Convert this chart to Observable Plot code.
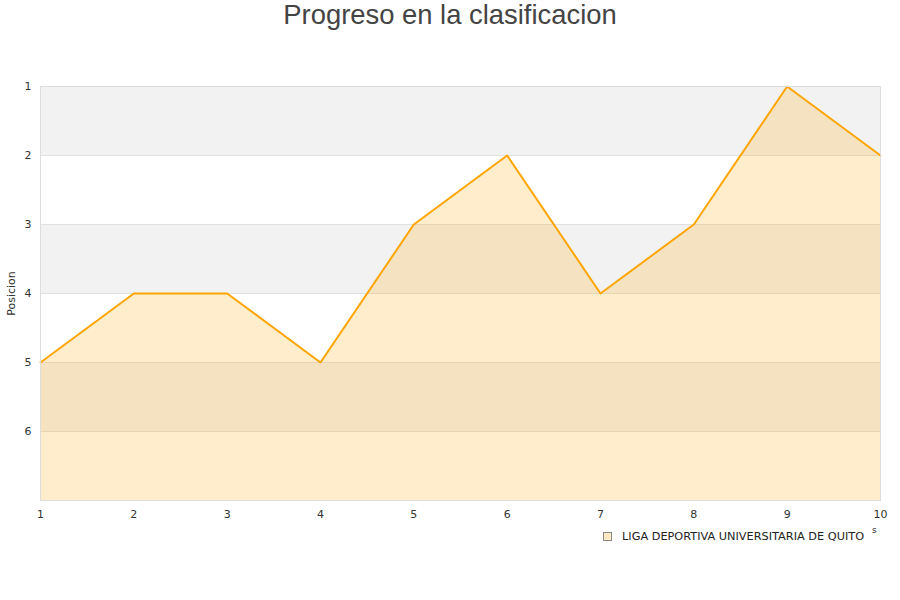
<!DOCTYPE html>
<html>
<head>
<meta charset="utf-8">
<script src="https://cdn.jsdelivr.net/npm/d3@7"></script>
<script src="https://cdn.jsdelivr.net/npm/@observablehq/plot@0.6"></script>
<style>
  body { margin: 0; background: #fff; }
  #wrap { position: relative; width: 900px; height: 600px; overflow: hidden; }
  #title { position: absolute; left: 0; top: -1px; width: 900px; text-align: center;
    font-family: "Liberation Sans", Arial, sans-serif; font-size: 27.4px; color: #444; line-height: 32px; }
  #legend { position: absolute; left: 603px; top: 530px; font-family: "DejaVu Sans", sans-serif;
    font-size: 11.3px; color: #222; display: flex; align-items: center; white-space: nowrap; }
  #legend .sw { width: 7px; height: 7px; background: #ffe9c0; border: 1px solid #888; margin-right: 10px; }
  #chart { position: absolute; left: 0; top: 0; }
  #frag { position: absolute; left: 872px; top: 525px; font-family: "DejaVu Sans", sans-serif; font-size: 9px; color: #333; }
</style>
</head>
<body>
<div id="wrap">
  <div id="title">Progreso en la clasificacion</div>
  <div id="chart"></div>
  <div id="legend"><span class="sw"></span><span id="serie"></span></div>
  <div id="frag">s</div>
</div>
<script>
const jornadas = [1, 2, 3, 4, 5, 6, 7, 8, 9, 10];
const posiciones = [5, 4, 4, 5, 3, 2, 4, 3, 1, 2];
const yTicks = [1, 2, 3, 4, 5, 6];
const bandStarts = [1, 3, 5];
const serieNombre = "LIGA DEPORTIVA UNIVERSITARIA DE QUITO";

document.getElementById("serie").textContent = serieNombre;

const data = jornadas.map((j, i) => ({jornada: j, pos: posiciones[i]}));
const bands = bandStarts.map(b => ({y1: b, y2: b + 1}));

const chart = Plot.plot({
  width: 900,
  height: 600,
  marginLeft: 40,
  marginRight: 20,
  marginTop: 86,
  marginBottom: 100,
  style: {fontFamily: "DejaVu Sans, sans-serif", fontSize: "11px", color: "#444", background: "transparent"},
  x: {domain: [1, 10], label: null},
  y: {domain: [1, 7], reverse: true, label: null},
  marks: [
    Plot.rectY(bands, {x1: 1, x2: 10, y1: "y1", y2: "y2", fill: "#f2f2f2"}),
    Plot.gridY(yTicks, {stroke: "#e0e0e0", strokeOpacity: 1}),
    Plot.areaY(data, {x: "jornada", y1: 7, y2: "pos", fill: "#ffa500", fillOpacity: 0.2}),
    Plot.lineY(data, {x: "jornada", y: "pos", stroke: "#ffa500", strokeWidth: 2}),
    Plot.frame({stroke: "#dddddd"}),
    Plot.axisX({ticks: jornadas, tickSize: 0, tickPadding: 10, label: null, fill: "#333", tickFormat: d => String(d)}),
    Plot.axisY({ticks: yTicks, tickSize: 0, tickPadding: 9, label: null, fill: "#333", tickFormat: d => String(d)}),
    Plot.text(["Posicion"], {frameAnchor: "left", textAnchor: "middle", dx: -29, rotate: -90, fill: "#333", fontSize: 11})
  ]
});
document.getElementById("chart").appendChild(chart);
</script>
</body>
</html>
